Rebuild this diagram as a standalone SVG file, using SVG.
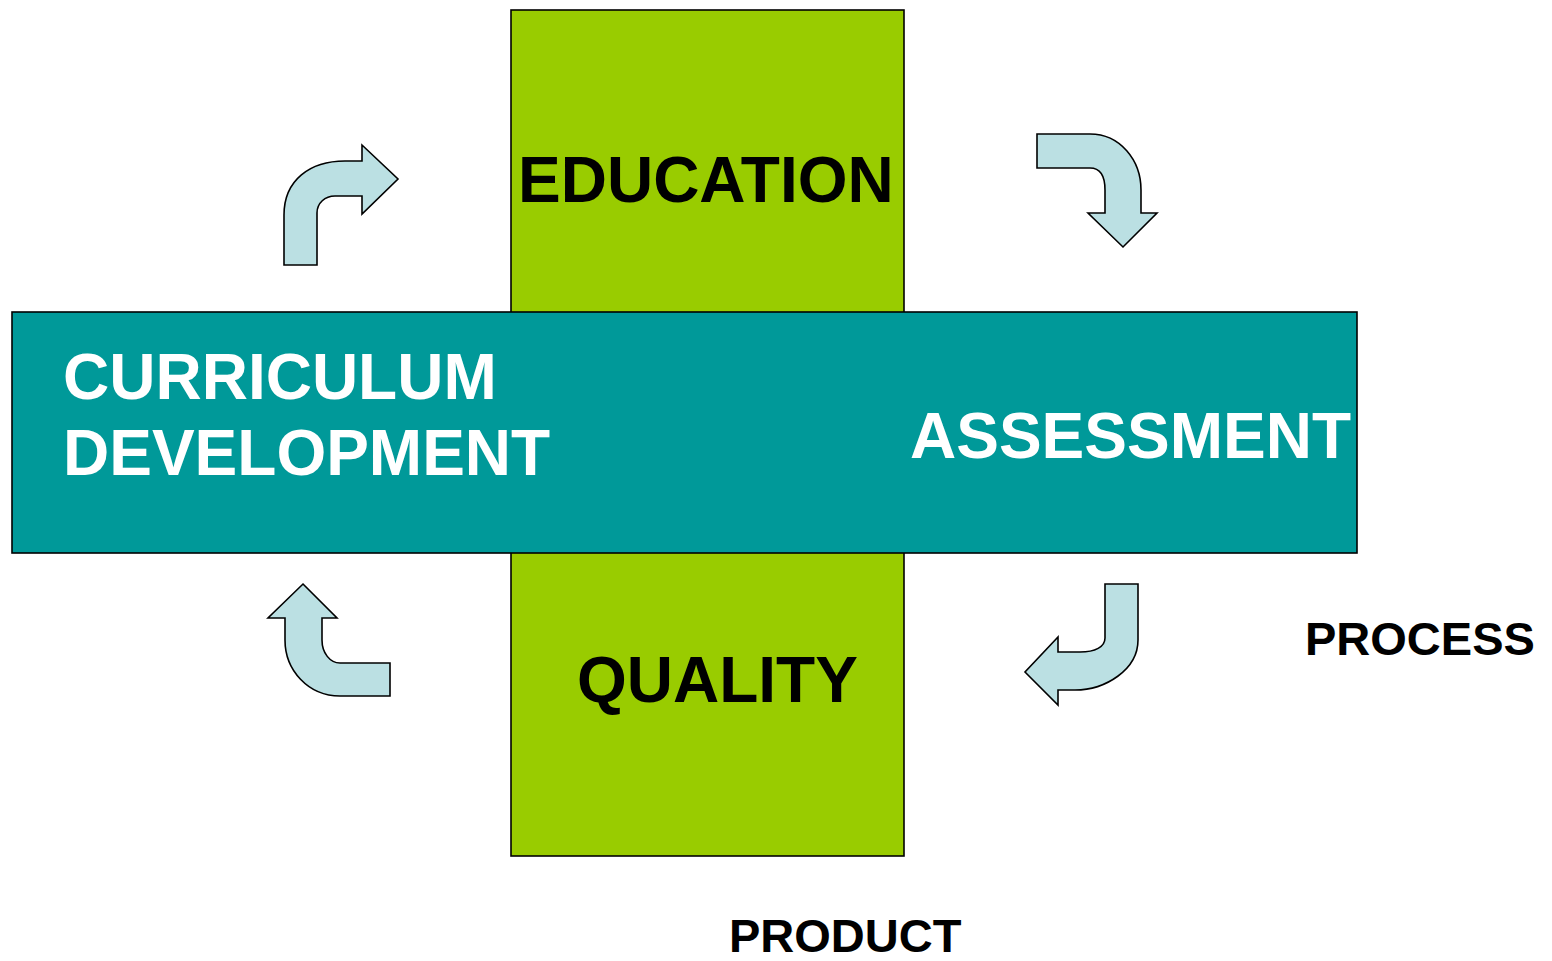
<svg xmlns="http://www.w3.org/2000/svg" width="1552" height="961" viewBox="0 0 1552 961">
  <style>
    .t { font-family: "Liberation Sans", Arial, sans-serif; font-weight: bold; }
    .blk { fill: #000000; }
    .wht { fill: #FFFFFF; }
    .arrow { fill: #BBE0E3; stroke: #000000; stroke-width: 1.6; stroke-linejoin: miter; }
    .green { fill: #99CC00; stroke: #000000; stroke-width: 1.6; }
    .teal { fill: #009999; stroke: #000000; stroke-width: 1.6; }
  </style>
  <rect width="1552" height="961" fill="#FFFFFF"/>
  <g id="vertical-bar">
    <rect class="green" x="511" y="10" width="393" height="846"/>
  </g>
  <g id="horizontal-bar">
    <rect class="teal" x="12" y="312" width="1345" height="241"/>
  </g>
  <g id="education">
    <text class="t blk" x="518" y="202" font-size="64">EDUCATION</text>
  </g>
  <g id="quality">
    <text class="t blk" x="577" y="702" font-size="64">QUALITY</text>
  </g>
  <g id="curriculum-development">
    <text class="t wht" x="63" y="399" font-size="64">CURRICULUM</text>
    <text class="t wht" x="63" y="475" font-size="64">DEVELOPMENT</text>
  </g>
  <g id="assessment">
    <text class="t wht" x="910" y="458" font-size="64">ASSESSMENT</text>
  </g>
  <g id="process">
    <text class="t blk" x="1305" y="655" font-size="47">PROCESS</text>
  </g>
  <g id="product">
    <text class="t blk" x="729" y="952" font-size="47">PRODUCT</text>
  </g>
  <g id="connectors">
    <path class="arrow" d="M284,265 L284,215 C284,180 310,161 345,161 L362,161 L362,145 L398,179 L362,214 L362,196 L335,196 C325,196 317,203 317,213 L317,265 Z"/>
    <path class="arrow" d="M1037,134 L1090,134 C1120,134 1141,160 1141,190 L1141,213 L1157,213 L1123,247 L1088,213 L1105,213 L1105,190 C1105,176 1100,168 1090,168 L1037,168 Z"/>
    <path class="arrow" d="M1105,584 L1138,584 L1138,640 C1138,670 1105,690 1075,690 L1058,690 L1058,705 L1025,672 L1058,637 L1058,652 L1080,652 C1095,652 1105,647 1105,638 Z"/>
    <path class="arrow" d="M303,584 L337,618 L322,618 L322,640 C322,653 330,663 340,663 L390,663 L390,696 L340,696 C308,696 285,670 285,640 L285,618 L268,618 Z"/>
  </g>
</svg>
